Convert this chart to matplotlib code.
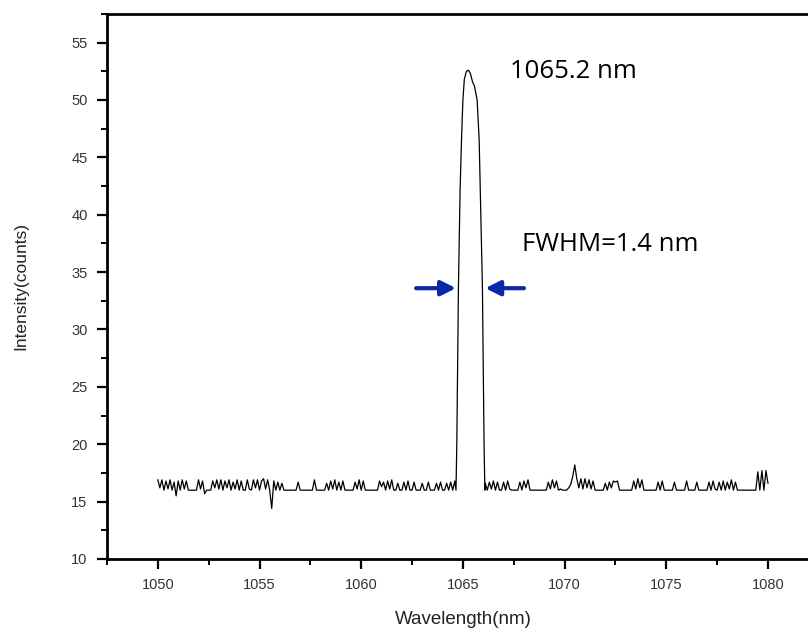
import numpy as np
import matplotlib
matplotlib.use('Agg')
import matplotlib.pyplot as plt
from matplotlib.ticker import MultipleLocator

# spectrum
# noisy baseline before the peak, 0.1 nm steps starting at 1050.0 nm
pre_vals = [
    16.9, 16.2, 16.9, 16.0, 16.8, 16.1, 16.9, 16.0, 16.7, 15.5,   # 1050
    16.8, 16.0, 16.9, 16.1, 16.8, 16.0, 16.0, 16.0, 16.0, 16.0,   # 1051
    16.9, 16.1, 16.8, 15.7, 16.0, 16.0, 16.0, 16.8, 16.2, 16.9,   # 1052
    16.1, 16.9, 16.0, 16.8, 16.2, 16.9, 16.0, 16.7, 16.1, 16.9,   # 1053
    16.0, 16.8, 16.0, 16.0, 16.9, 16.1, 16.0, 16.9, 16.2, 16.9,   # 1054
    16.0, 16.8, 17.0, 16.1, 16.9, 16.0, 14.4, 16.8, 16.0, 16.7,   # 1055
    16.0, 16.6, 16.0, 16.0, 16.0, 16.0, 16.0, 16.0, 16.0, 16.7,   # 1056
    16.0, 16.0, 16.0, 16.0, 16.0, 16.0, 16.0, 16.9, 16.0, 16.0,   # 1057
    16.0, 16.0, 16.0, 16.6, 16.0, 16.8, 16.1, 16.9, 16.0, 16.7,   # 1058
    16.0, 16.8, 16.0, 16.0, 16.0, 16.0, 16.0, 16.7, 16.1, 16.9,   # 1059
    16.0, 16.8, 16.0, 16.0, 16.0, 16.0, 16.0, 16.0, 16.0, 16.8,   # 1060
    16.3, 16.7, 16.0, 16.8, 16.1, 16.9, 16.0, 16.0, 16.6, 16.0,   # 1061
    16.0, 16.7, 16.0, 16.8, 16.0, 16.0, 16.7, 16.0, 16.0, 16.0,   # 1062
    16.6, 16.0, 16.0, 16.7, 16.0, 16.0, 16.0, 16.6, 16.0, 16.7,   # 1063
    16.0, 16.0, 16.6, 16.0, 16.7, 16.0, 16.8,                     # 1064
]

# the laser line itself
peak_nm = [1064.66, 1064.70, 1064.78, 1064.86, 1064.93, 1065.00, 1065.07,
           1065.17, 1065.27, 1065.37, 1065.47, 1065.57, 1065.70, 1065.80,
           1065.88, 1065.96, 1066.04, 1066.08]
peak_vals = [16.0, 20.0, 33.6, 42.0, 46.5, 50.0, 51.8,
             52.5, 52.6, 52.3, 51.6, 51.2, 50.0, 46.5,
             40.0, 33.6, 20.0, 16.0]

# baseline after the peak, 0.1 nm steps starting at 1066.1 nm
post_vals = [
    16.6, 16.0, 16.7, 16.1, 16.8, 16.0, 16.7, 16.0, 16.0,         # 1066
    16.7, 16.0, 16.8, 16.1, 16.0, 16.0, 16.0, 16.0, 16.7, 16.0,   # 1067
    16.8, 16.2, 16.9, 16.0, 16.0, 16.0, 16.0, 16.0, 16.0, 16.0,   # 1068
    16.0, 16.0, 16.7, 16.1, 16.9, 16.2, 16.8, 16.0, 16.1, 16.0,   # 1069
    16.0, 16.0, 16.2, 16.5, 17.2, 18.2, 17.0, 16.2, 17.0, 16.1,   # 1070
    17.0, 16.2, 16.9, 16.1, 16.8, 16.0, 16.0, 16.0, 16.0, 16.0,   # 1071
    16.6, 16.0, 16.7, 16.2, 16.8, 16.7, 16.8, 16.0, 16.0, 16.0,   # 1072
    16.0, 16.0, 16.0, 16.0, 16.8, 16.1, 17.0, 16.2, 16.9, 16.0,   # 1073
    16.0, 16.0, 16.0, 16.0, 16.0, 16.0, 16.7, 16.0, 16.8, 16.0,   # 1074
    16.0, 16.0, 16.0, 16.0, 16.7, 16.0, 16.0, 16.0, 16.0, 16.0,   # 1075
    16.8, 16.0, 16.0, 16.0, 16.0, 16.7, 16.0, 16.0, 16.0, 16.0,   # 1076
    16.0, 16.7, 16.0, 16.8, 16.1, 16.0, 16.7, 16.0, 16.8, 16.0,   # 1077
    16.7, 16.1, 16.9, 16.0, 16.7, 16.0, 16.0, 16.0, 16.0, 16.0,   # 1078
    16.0, 16.0, 16.0, 16.0, 16.0, 17.6, 16.0, 17.7, 16.0, 17.7,   # 1079
    16.6,                                                         # 1080
]

pre_nm = 1050.0 + 0.1 * np.arange(len(pre_vals))
post_nm = 1066.1 + 0.1 * np.arange(len(post_vals))
wl = np.concatenate([pre_nm, peak_nm, post_nm])
counts = np.concatenate([pre_vals, peak_vals, post_vals])

fig = plt.figure(figsize=(8.08, 6.39), dpi=100)
ax = fig.add_axes([0.1324, 0.1252, 0.881, 0.853])
ax.plot(wl, counts, color='black', lw=0.9)

ax.set_xlim(1047.5, 1082.5)
ax.set_ylim(10, 57.5)
ax.xaxis.set_major_locator(MultipleLocator(5))
ax.xaxis.set_minor_locator(MultipleLocator(2.5))
ax.yaxis.set_major_locator(MultipleLocator(5))
ax.yaxis.set_minor_locator(MultipleLocator(2.5))

for s in ['left', 'bottom', 'top']:
    ax.spines[s].set_linewidth(2)
ax.spines['right'].set_visible(False)

ax.tick_params(which='major', direction='out', length=7, width=1.6,
               labelsize=10.5, labelcolor='#333333', pad=7)
ax.tick_params(which='minor', direction='out', length=4, width=1.4)
for lab in ax.get_xticklabels() + ax.get_yticklabels():
    lab.set_family('Liberation Sans')

ax.set_xlabel('Wavelength(nm)', fontsize=13.5, family='Liberation Sans', color='#222222')
ax.set_ylabel('Intensity(counts)', fontsize=12.5, family='Liberation Sans', color='#222222')
ax.xaxis.set_label_coords(0.5, -0.095)
ax.yaxis.set_label_coords(-0.11, 0.5)

# annotations
ax.text(1067.3, 52.5, '1065.2 nm', fontsize=18.5, family='Open Sans', va='center')
ax.text(1067.9, 37.4, 'FWHM=1.4 nm', fontsize=18.5, family='Open Sans', va='center')

arrow_col = '#0a28a8'
ax.annotate('', xy=(1064.66, 33.6), xytext=(1062.7, 33.6),
            arrowprops=dict(arrowstyle='-|>', color=arrow_col, lw=3,
                            mutation_scale=22, shrinkA=0, shrinkB=0))
ax.annotate('', xy=(1066.1, 33.6), xytext=(1068.0, 33.6),
            arrowprops=dict(arrowstyle='-|>', color=arrow_col, lw=3,
                            mutation_scale=22, shrinkA=0, shrinkB=0))

fig.savefig('out.png', dpi=100)
